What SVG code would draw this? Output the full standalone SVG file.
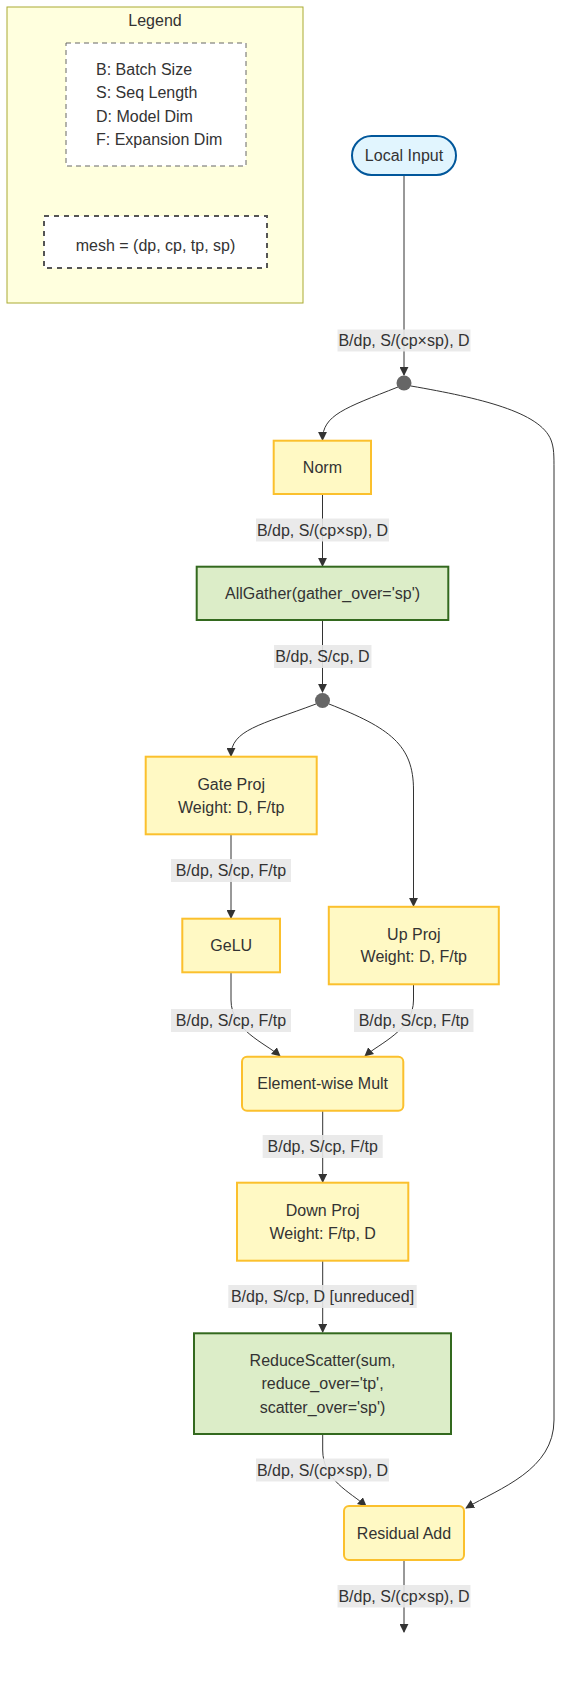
<svg xmlns="http://www.w3.org/2000/svg" width="571" height="1694" viewBox="0 0 571 1694">
<style>
text{font-family:"Liberation Sans",Arial,sans-serif;font-size:16px;fill:#333;text-anchor:middle;dominant-baseline:central}
.leg{fill:#ffffde;stroke:#aaaa33;stroke-width:1}
.dash1{fill:#fff;stroke:#666;stroke-width:1;stroke-dasharray:5 4}
.dash2{fill:#fff;stroke:#555;stroke-width:2;stroke-dasharray:5 5}
.op{fill:#fff9c4;stroke:#fbc02d;stroke-width:2}
.comm{fill:#dcedc8;stroke:#33691e;stroke-width:2}
.inp{fill:#e1f5fe;stroke:#01579b;stroke-width:2}
.jn{fill:#666}
.edge{fill:none;stroke:#333;stroke-width:1;marker-end:url(#arr)}
.lbg{fill:#e8e8e8;opacity:0.9}
</style>
<defs>
<marker id="arr" viewBox="0 0 10 10" refX="9" refY="5" markerUnits="userSpaceOnUse" markerWidth="9" markerHeight="9" orient="auto">
<path d="M0,0 L10,5 L0,10 z" fill="#333"/>
</marker>
</defs>
<rect width="571" height="1694" fill="#fff"/>

<g id="legend">
<rect class="leg" x="7" y="7" width="296" height="296"/>
<text x="155" y="20">Legend</text>
<g id="legend-dims">
<rect class="dash1" x="66" y="43" width="180" height="123"/>
<text x="96" y="69" style="text-anchor:start">B: Batch Size</text>
<text x="96" y="92" style="text-anchor:start">S: Seq Length</text>
<text x="96" y="116" style="text-anchor:start">D: Model Dim</text>
<text x="96" y="139" style="text-anchor:start">F: Expansion Dim</text>
</g>
<g id="legend-mesh">
<rect class="dash2" x="44" y="216" width="223" height="52"/>
<text x="155.5" y="245">mesh = (dp, cp, tp, sp)</text>
</g>
</g>

<g id="edges">
<path class="edge" d="M404,175 L404,375"/>
<path class="edge" d="M398,387 C345,408 322.5,415 322.5,440"/>
<path class="edge" d="M411,386 C480,398 540,412 551,440 C554,448 554,455 554,470 L554,1420 C554,1470 500,1488 466,1508"/>
<path class="edge" d="M322.5,494 L322.5,566"/>
<path class="edge" d="M322.5,620 L322.5,692"/>
<path class="edge" d="M316,704 C260,725 231,730 231,756"/>
<path class="edge" d="M329,704 C390,728 413.5,745 413.5,790 L413.5,906"/>
<path class="edge" d="M231,834 L231,918"/>
<path class="edge" d="M231,972 L231,1000 C231,1030 265,1043 280,1056"/>
<path class="edge" d="M413.5,984 L413.5,1000 C413.5,1030 380,1043 365,1056"/>
<path class="edge" d="M322.7,1111 L322.7,1182"/>
<path class="edge" d="M322.7,1261 L322.7,1332"/>
<path class="edge" d="M322.7,1434 L322.7,1450 C322.7,1480 350,1492 366,1506"/>
<path class="edge" d="M404,1560 L404,1632"/>
<g id="edge-labels">
<rect class="lbg" x="337.5" y="329.5" width="133" height="22"/>
<text x="404" y="340.5">B/dp, S/(cp×sp), D</text>
<rect class="lbg" x="256" y="518.5" width="133" height="23"/>
<text x="322.5" y="530">B/dp, S/(cp×sp), D</text>
<rect class="lbg" x="274" y="645" width="97.5" height="23"/>
<text x="322.5" y="656.5">B/dp, S/cp, D</text>
<rect class="lbg" x="171" y="859" width="120" height="23"/>
<text x="231" y="870.5">B/dp, S/cp, F/tp</text>
<rect class="lbg" x="171" y="1009" width="120" height="23"/>
<text x="231" y="1020.5">B/dp, S/cp, F/tp</text>
<rect class="lbg" x="354" y="1009" width="119.5" height="23"/>
<text x="413.8" y="1020.5">B/dp, S/cp, F/tp</text>
<rect class="lbg" x="262.7" y="1135" width="120" height="23"/>
<text x="322.7" y="1146.5">B/dp, S/cp, F/tp</text>
<rect class="lbg" x="228.3" y="1285" width="188.4" height="23"/>
<text x="322.5" y="1296.5">B/dp, S/cp, D [unreduced]</text>
<rect class="lbg" x="256" y="1458.5" width="133" height="23"/>
<text x="322.5" y="1470">B/dp, S/(cp×sp), D</text>
<rect class="lbg" x="337.5" y="1585" width="133" height="22.5"/>
<text x="404" y="1596">B/dp, S/(cp×sp), D</text>
</g>
</g>

<g id="local-input">
<rect class="inp" x="352" y="136" width="104" height="39" rx="19.5"/>
<text x="404" y="155.5">Local Input</text>
</g>
<g id="junction1"><circle class="jn" cx="404" cy="383" r="7.5"/></g>
<g id="norm">
<rect class="op" x="273.7" y="440.7" width="97.3" height="53.3"/>
<text x="322.4" y="467.3">Norm</text>
</g>
<g id="allgather">
<rect class="comm" x="196.7" y="566.7" width="251.6" height="53.3"/>
<text x="322.5" y="593.3">AllGather(gather_over='sp')</text>
</g>
<g id="junction2"><circle class="jn" cx="322.5" cy="700.5" r="7.5"/></g>
<g id="gate-proj">
<rect class="op" x="145.7" y="756.7" width="171" height="77.6"/>
<text x="231.2" y="784">Gate Proj</text>
<text x="231.2" y="807.7">Weight: D, F/tp</text>
</g>
<g id="gelu">
<rect class="op" x="182.3" y="918.7" width="97.7" height="53.6"/>
<text x="231.2" y="945.5">GeLU</text>
</g>
<g id="up-proj">
<rect class="op" x="328.8" y="906.8" width="170" height="77.5"/>
<text x="413.8" y="934.3">Up Proj</text>
<text x="413.8" y="956.7">Weight: D, F/tp</text>
</g>
<g id="elementwise-mult">
<rect class="op" x="242" y="1056.7" width="161.3" height="54" rx="5"/>
<text x="322.7" y="1083.5">Element-wise Mult</text>
</g>
<g id="down-proj">
<rect class="op" x="237" y="1182.7" width="171.3" height="78"/>
<text x="322.7" y="1210">Down Proj</text>
<text x="322.7" y="1233.3">Weight: F/tp, D</text>
</g>
<g id="reduce-scatter">
<rect class="comm" x="194" y="1333.3" width="257" height="100.7"/>
<text x="322.5" y="1360">ReduceScatter(sum,</text>
<text x="322.5" y="1383.3">reduce_over='tp',</text>
<text x="322.5" y="1407.3">scatter_over='sp')</text>
</g>
<g id="residual-add">
<rect class="op" x="344" y="1506" width="120" height="54" rx="5"/>
<text x="404" y="1533">Residual Add</text>
</g>
</svg>
